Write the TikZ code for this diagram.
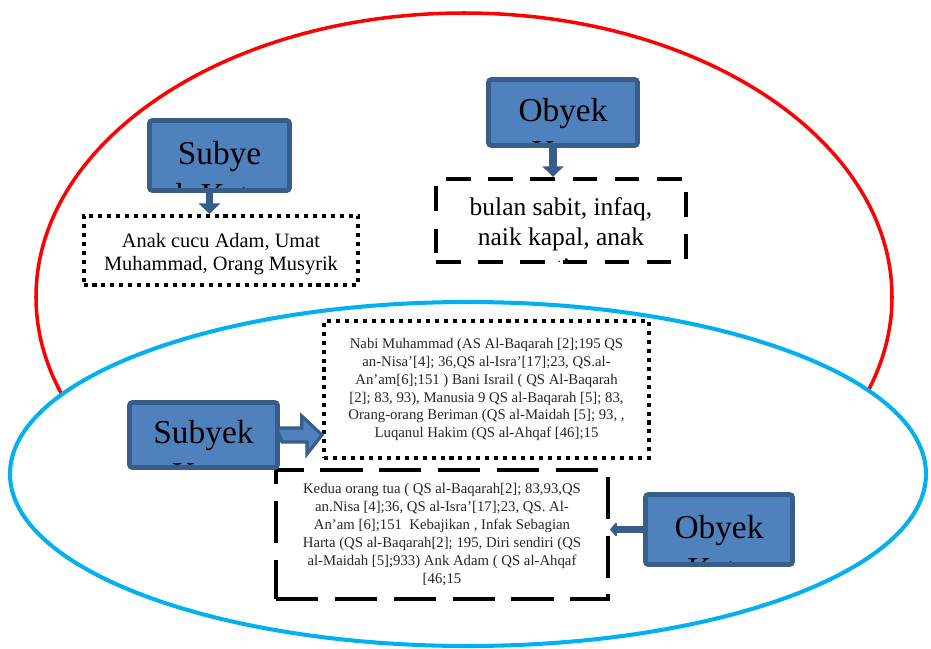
\documentclass[tikz,border=0pt]{standalone}
\usepackage{fontspec}
\setmainfont{Liberation Serif}
\usetikzlibrary{arrows.meta,calc}
\definecolor{biru}{HTML}{4F81BD}
\definecolor{biruTua}{HTML}{385D8A}
\definecolor{merah}{HTML}{FF0000}
\definecolor{langit}{HTML}{00B0F0}
\tikzset{
  kotak/.style={draw=biruTua, fill=biru, line width=2.6pt, rounded corners=1.5pt},
  judul/.style={path picture={\node[align=center, font=\fontsize{19}{24}\selectfont]
      at ([yshift=-0.365cm]path picture bounding box.center) {#1};}},
  titik/.style={draw, line width=2.3pt, dash pattern=on 2.3pt off 2.8pt, align=center},
  putus/.style={draw, line width=2.5pt, dash pattern=on 14pt off 10pt, align=center},
  kecil/.style={font=\fontsize{8.4}{10.2}\selectfont, text=black!85},
  panah/.style={draw=biruTua, line width=4.5pt, -{Triangle[width=12pt,length=6pt]}},
  blokpanah/.style={draw=biruTua, fill=biru, line width=1.8pt, line join=miter}
}

\begin{document}
\begin{tikzpicture}[x=0.02cm, y=-0.02cm]
    \useasboundingbox (0,0) rectangle (931,649);

    % dua lingkaran
    \draw[merah, line width=2pt] (464,297) ellipse [x radius=428, y radius=284];
    \draw[langit, line width=2.3pt, fill=white] (468,474) ellipse [x radius=458, y radius=172];

    % bagian atas
    \node[kotak, judul={Subye\\k Kata}, minimum width=2.8cm, minimum height=1.4cm] (sb1) at (219.5,155.5) {};
    \node[titik, minimum width=5.5cm, minimum height=1.38cm,
        path picture={\node[align=center, font=\fontsize{11.6}{13.2}\selectfont]
            at ([yshift=-0.08cm]path picture bounding box.center) {Anak cucu Adam, Umat\\Muhammad, Orang Musyrik};}]
        (dk1) at (221,250.5) {};

    \node[kotak, judul={Obyek\\Kata}, minimum width=2.98cm, minimum height=1.32cm] (ob1) at (563,112.5) {};
    \node[putus, minimum width=5.0cm, minimum height=1.66cm,
        path picture={\node[align=center, font=\fontsize{14.5}{17}\selectfont]
            at ([yshift=-0.38cm]path picture bounding box.center) {bulan sabit, infaq,\\naik kapal, anak\\yatim};}]
        (dk2) at (561,220.5) {};

    % bagian bawah
    \node[putus, dash pattern=on 24pt off 9.5pt, minimum width=6.64cm, minimum height=2.58cm, kecil] (dk4) at (442,534.5)
        {Kedua orang tua ( QS al-Baqarah[2]; 83,93,QS\\an.Nisa [4];36, QS al-Isra’[17];23, QS. Al-\\An’am [6];151~ Kebajikan , Infak Sebagian\\Harta (QS al-Baqarah[2]; 195, Diri sendiri (QS\\al-Maidah [5];933) Ank Adam ( QS al-Ahqaf\\{[}46;15};
    \node[titik, minimum width=6.5cm, minimum height=2.74cm, kecil] (dk3) at (486.5,389.5)
        {Nabi Muhammad (AS Al-Baqarah [2];195 QS\\an-Nisa’[4]; 36,QS al-Isra’[17];23, QS.al-\\An’am[6];151 ) Bani Israil ( QS Al-Baqarah\\{[}2]; 83, 93), Manusia 9 QS al-Baqarah [5]; 83,\\Orang-orang Beriman (QS al-Maidah [5]; 93, ,\\Luqanul Hakim (QS al-Ahqaf [46];15};

    \node[kotak, judul={Subyek\\Kata}, minimum width=2.96cm, minimum height=1.3cm] (sb2) at (203.5,435) {};
    \node[kotak, judul={Obyek\\Kata}, minimum width=2.94cm, minimum height=1.4cm] (ob2) at (719,529.5) {};

    % panah
    \draw[panah] ([xshift=-0.2cm]sb1.south) -- ([xshift=-0.2cm]sb1.south |- dk1.north);
    \draw[panah] ([xshift=-0.2cm]ob1.south) -- ([xshift=-0.2cm]ob1.south |- dk2.north);
    \draw[panah, line width=4pt, -{Triangle[round,width=9pt,length=4pt]}] (ob2.west) -- (ob2.west -| dk4.east);
    \draw[blokpanah] ($(sb2.east)+(-3,-7)$) -- ++(25,0) -- ++(0,-12) -- (dk3.west |- sb2.east)
        -- ++(-15,19) -- ++(0,-12) -- ++(-25,0) -- cycle;
\end{tikzpicture}
\end{document}
